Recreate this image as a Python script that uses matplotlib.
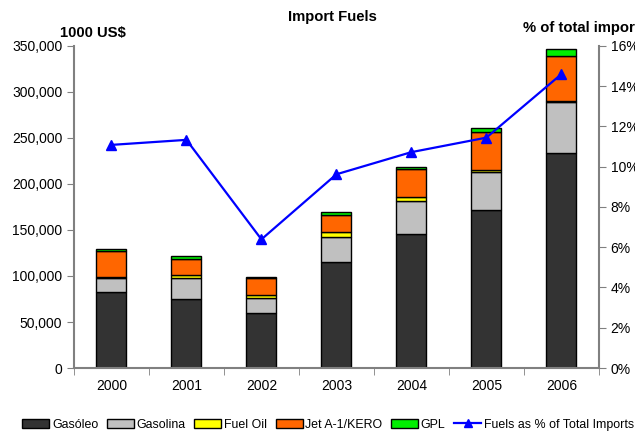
import matplotlib
matplotlib.use("Agg")
import matplotlib.pyplot as plt
from matplotlib.ticker import FuncFormatter, FixedLocator
from matplotlib.lines import Line2D
from matplotlib.patches import Patch

plt.rcParams['font.family'] = ['Liberation Sans', 'DejaVu Sans']

years = ["2000", "2001", "2002", "2003", "2004", "2005", "2006"]
gasoleo = [83000, 75000, 59800, 114900, 145300, 171700, 234000]
gasolina = [14500, 23200, 16600, 27800, 36600, 41700, 55100]
fuel_oil = [1100, 2500, 2900, 4800, 4300, 1800, 500]
jet = [28600, 18100, 18200, 18800, 30100, 41000, 49500]
gpl = [2200, 2600, 1800, 2900, 2500, 5000, 7300]
pct = [11.08, 11.33, 6.39, 9.62, 10.72, 11.44, 14.59]

series = [("Gasóleo", gasoleo, "#333333"),
          ("Gasolina", gasolina, "#c0c0c0"),
          ("Fuel Oil", fuel_oil, "#ffff00"),
          ("Jet A-1/KERO", jet, "#ff6600"),
          ("GPL", gpl, "#00ee00")]

fig = plt.figure(figsize=(6.35, 4.32), dpi=100)
ax = fig.add_axes([0.1165, 0.148, 0.8265, 0.746])
x = list(range(len(years)))
bottom = [0] * len(years)
for name, vals, col in series:
    ax.bar(x, vals, 0.4, bottom=bottom, color=col, edgecolor="black", linewidth=1.0, zorder=2)
    bottom = [b + v for b, v in zip(bottom, vals)]

ax.set_xlim(-0.5, 6.5)
ax.set_ylim(0, 350000)
ax.set_yticks(range(0, 350001, 50000))
ax.yaxis.set_major_formatter(FuncFormatter(lambda v, p: f"{int(v):,}"))
ax.set_xticks(x)
ax.set_xticklabels(years)
ax.tick_params(axis='x', which='major', length=0, pad=8, labelsize=10)
ax.xaxis.set_minor_locator(FixedLocator([i + 0.5 for i in range(-1, 7)]))
ax.tick_params(axis='x', which='minor', length=5, color="#808080")
ax.tick_params(axis='y', length=5, color="#808080", labelsize=10)
for s in ["top", "right"]:
    ax.spines[s].set_visible(False)
for s in ["left", "bottom"]:
    ax.spines[s].set_color("#808080")
    ax.spines[s].set_linewidth(1.5)

ax2 = ax.twinx()
ax2.plot(x, pct, color="#0000ff", marker="^", markersize=7, linewidth=1.6, zorder=3)
ax2.set_ylim(0, 16)
ax2.set_yticks(range(0, 17, 2))
ax2.yaxis.set_major_formatter(FuncFormatter(lambda v, p: f"{int(v)}%"))
ax2.tick_params(axis='y', length=5, color="#808080", labelsize=10)
for s in ["top", "left", "bottom"]:
    ax2.spines[s].set_visible(False)
ax2.spines["right"].set_color("#808080")
ax2.spines["right"].set_linewidth(1.5)

fig.text(0.524, 0.961, "Import Fuels", ha="center", va="center", fontsize=10.7, fontweight="bold")
fig.text(0.095, 0.924, "1000 US$", ha="left", va="center", fontsize=10.7, fontweight="bold")
fig.text(0.823, 0.935, "% of total imports", ha="left", va="center", fontsize=10.7, fontweight="bold")

handles = [Patch(facecolor=c, edgecolor="black", label=n) for n, v, c in series]
handles.append(Line2D([0], [0], color="#0000ff", marker="^", markersize=6, linewidth=1.6,
                      label="Fuels as % of Total Imports"))
fig.legend(handles=handles, loc="center left", bbox_to_anchor=(0.035, 0.017), ncol=6, frameon=False,
           fontsize=8.9, handlelength=2.2, handleheight=0.7, handletextpad=0.2, columnspacing=0.7,
           borderpad=0, borderaxespad=0)

fig.savefig("out.png", dpi=100)
